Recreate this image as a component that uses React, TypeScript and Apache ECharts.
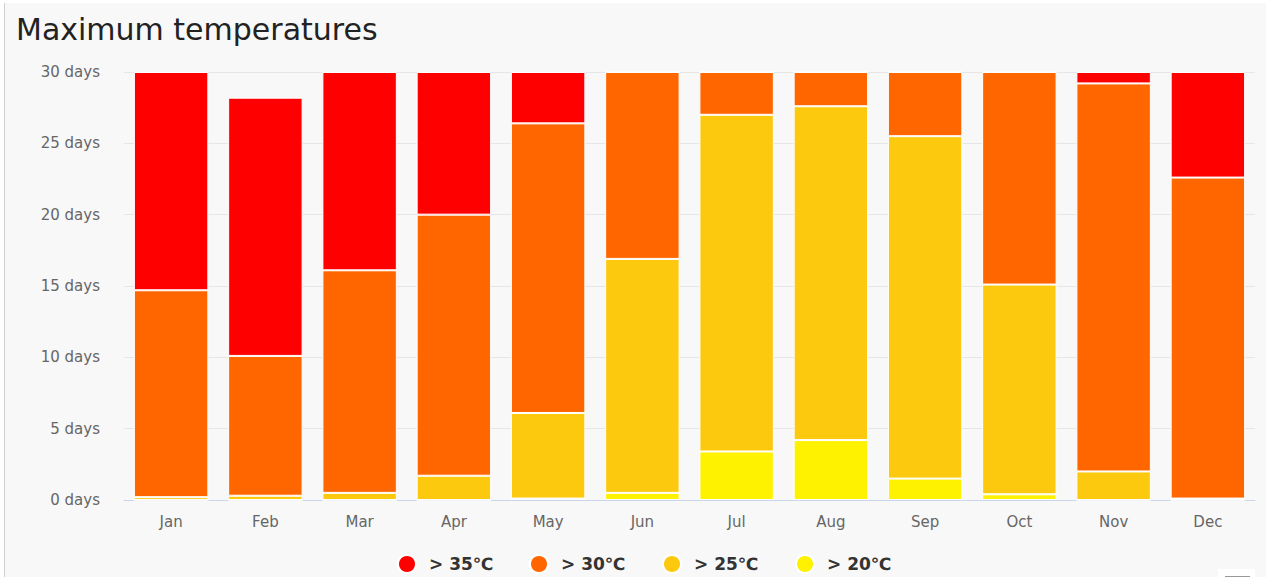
import React, { useEffect, useRef } from "react";
import * as echarts from "echarts";

const months = ["Jan", "Feb", "Mar", "Apr", "May", "Jun", "Jul", "Aug", "Sep", "Oct", "Nov", "Dec"];
const seriesNames = ["> 35℃", "> 30℃", "> 25℃", "> 20℃"];
const over35 = [15.3, 18.1, 13.9, 10.0, 3.6, 0, 0, 0, 0, 0, 0.8, 7.4];
const over30 = [14.5, 9.8, 15.6, 18.3, 20.3, 13.1, 3.0, 2.4, 4.5, 14.9, 27.2, 22.5];
const over25 = [0.2, 0.3, 0.5, 1.7, 6.0, 16.4, 23.6, 23.4, 24.0, 14.7, 2.0, 0.1];
const over20 = [0, 0, 0, 0, 0.1, 0.5, 3.4, 4.2, 1.5, 0.4, 0, 0];
const yTicks = [0, 5, 10, 15, 20, 25, 30];

const colors = ["#ff0000", "#ff6600", "#fdc90f", "#fff200"];
const FONT = "'DejaVu Sans', 'Open Sans', sans-serif";

export default function App() {
  const ref = useRef<HTMLDivElement>(null);
  useEffect(() => {
    if (!ref.current) return;
    const chart = echarts.init(ref.current, null, { renderer: "svg" });
    const values = [over35, over30, over25, over20];
    // stacking: bottom series first
    const order = [3, 2, 1, 0];
    const legendLeft = [397, 529, 662, 795];
    chart.setOption({
      animation: false,
      backgroundColor: "#f8f8f8",
      title: {
        text: "Maximum temperatures",
        left: 16,
        top: 14,
        padding: 0,
        textStyle: { fontFamily: FONT, fontSize: 30, fontWeight: "normal", color: "#222" },
      },
      legend: seriesNames.map((n, i) => ({
        data: [n],
        left: legendLeft[i],
        top: 554,
        padding: 0,
        icon: "circle",
        itemWidth: 34,
        itemHeight: 18,
        selectedMode: false,
        textStyle: { fontFamily: FONT, fontSize: 17, fontWeight: "bold", color: "#333" },
      })),
      grid: { left: 124, right: 11, top: 72, bottom: 77 },
      xAxis: {
        type: "category",
        data: months,
        axisTick: { show: false },
        axisLine: { lineStyle: { color: "#ccd6eb", width: 1 } },
        axisLabel: { fontFamily: FONT, fontSize: 15, color: "#666", margin: 14 },
      },
      yAxis: {
        type: "value",
        min: yTicks[0],
        max: yTicks[yTicks.length - 1],
        interval: 5,
        axisLine: { show: false },
        axisTick: { show: false },
        splitLine: { lineStyle: { color: "#e6e6e6", width: 1 } },
        axisLabel: { fontFamily: FONT, fontSize: 15, color: "#666", margin: 24, formatter: "{value} days" },
      },
      series: order.map((i) => ({
        name: seriesNames[i],
        type: "bar",
        stack: "days",
        data: values[i],
        barCategoryGap: "21%",
        itemStyle: { color: colors[i], borderColor: "#ffffff", borderWidth: 1 },
      })),
      graphic: [
        { type: "rect", shape: { x: 0, y: 0, width: 4, height: 577 }, style: { fill: "#ffffff" }, silent: true },
        { type: "rect", shape: { x: 0, y: 0, width: 1266, height: 3 }, style: { fill: "#ffffff" }, silent: true },
        { type: "line", shape: { x1: 4.5, y1: 3, x2: 4.5, y2: 577 }, style: { stroke: "#d0d0d0", lineWidth: 1 }, silent: true },
        { type: "rect", shape: { x: 1218, y: 569, width: 37, height: 8 }, style: { fill: "#ffffff" }, silent: true },
        { type: "line", shape: { x1: 1225, y1: 576.5, x2: 1250, y2: 576.5 }, style: { stroke: "#999999", lineWidth: 1 }, silent: true },
      ],
    });
    return () => chart.dispose();
  }, []);
  return (
    <div
      ref={ref}
      style={{ position: "absolute", left: 0, top: 0, width: 1266, height: 577 }}
    />
  );
}
